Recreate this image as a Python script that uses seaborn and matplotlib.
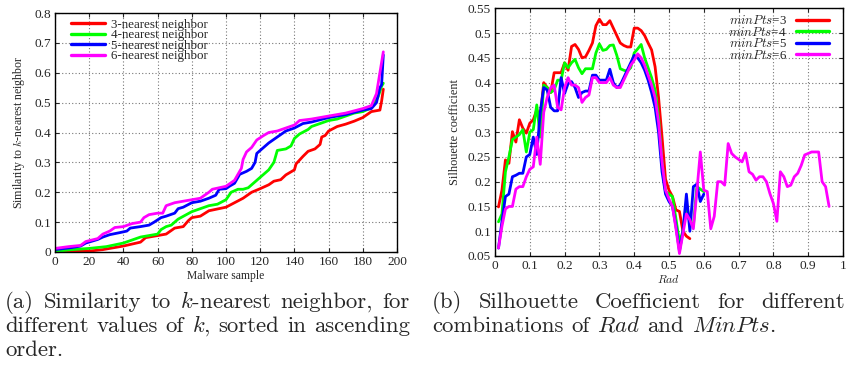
import matplotlib
matplotlib.use("Agg")
import matplotlib.pyplot as plt
from matplotlib.ticker import FuncFormatter, MultipleLocator
import seaborn as sns
import numpy as np

# ---------------- data: left panel (sorted similarity) ----------------
knn3_x = [0, 20, 28, 30, 40, 50, 53, 60, 65, 70, 75, 78, 80, 85, 90, 100, 105, 110, 115, 120,
          125, 128, 132, 135, 140, 141, 145, 148, 152, 155, 156, 158, 160, 165, 170, 175, 180,
          185, 190, 191, 192]
knn3_y = [0.002, 0.003, 0.008, 0.01, 0.02, 0.033, 0.048, 0.055, 0.06, 0.08, 0.085, 0.105, 0.115,
          0.12, 0.138, 0.15, 0.165, 0.18, 0.2, 0.212, 0.225, 0.237, 0.242, 0.258, 0.275, 0.295,
          0.32, 0.337, 0.345, 0.36, 0.385, 0.39, 0.405, 0.42, 0.428, 0.438, 0.45, 0.47, 0.475,
          0.505, 0.545]

knn4_x = [0, 10, 20, 30, 40, 45, 50, 55, 60, 62, 65, 68, 70, 72, 80, 85, 90, 95, 100, 103, 107,
          110, 113, 118, 122, 125, 128, 130, 135, 138, 140, 143, 148, 150, 155, 160, 165, 170,
          175, 180, 184, 187, 189, 191, 192]
knn4_y = [0.002, 0.008, 0.012, 0.018, 0.03, 0.04, 0.05, 0.055, 0.06, 0.075, 0.085, 0.09, 0.1,
          0.11, 0.135, 0.145, 0.155, 0.16, 0.175, 0.2, 0.21, 0.21, 0.215, 0.24, 0.26, 0.275, 0.3,
          0.34, 0.345, 0.355, 0.38, 0.395, 0.41, 0.42, 0.43, 0.44, 0.445, 0.455, 0.465, 0.47,
          0.48, 0.5, 0.52, 0.555, 0.565]

knn5_x = [0, 10, 15, 18, 25, 28, 32, 38, 42, 44, 50, 55, 58, 62, 65, 70, 72, 75, 80, 85, 90, 94,
          96, 100, 102, 105, 108, 112, 115, 117, 118, 120, 122, 125, 130, 135, 140, 145, 150,
          160, 170, 180, 185, 188, 190, 191, 192]
knn5_y = [0.008, 0.015, 0.02, 0.03, 0.042, 0.05, 0.058, 0.065, 0.07, 0.08, 0.085, 0.09, 0.1,
          0.115, 0.12, 0.13, 0.145, 0.15, 0.165, 0.17, 0.18, 0.19, 0.21, 0.212, 0.22, 0.23, 0.26,
          0.27, 0.28, 0.3, 0.33, 0.34, 0.35, 0.365, 0.385, 0.405, 0.415, 0.43, 0.435, 0.45,
          0.46, 0.475, 0.48, 0.5, 0.55, 0.56, 0.66]

knn6_x = [0, 8, 15, 18, 25, 28, 32, 35, 40, 45, 50, 52, 55, 60, 63, 65, 70, 75, 80, 85, 90, 92,
          100, 105, 107, 109, 110, 112, 115, 118, 122, 125, 130, 135, 140, 143, 150, 160, 170,
          180, 185, 188, 190, 192]
knn6_y = [0.012, 0.018, 0.022, 0.035, 0.045, 0.06, 0.07, 0.082, 0.085, 0.095, 0.1, 0.115,
          0.125, 0.13, 0.13, 0.155, 0.165, 0.17, 0.175, 0.18, 0.2, 0.21, 0.22, 0.24, 0.26, 0.28,
          0.31, 0.335, 0.35, 0.375, 0.39, 0.4, 0.405, 0.415, 0.425, 0.44, 0.445, 0.455, 0.465,
          0.48, 0.49, 0.53, 0.6, 0.67]

left_labels = ["3-nearest neighbor", "4-nearest neighbor", "5-nearest neighbor", "6-nearest neighbor"]

# ---------------- data: right panel (silhouette coefficient) ----------------
rad_a = [round(0.01 * i, 2) for i in range(1, 97)]  # 0.01 .. 0.96

sil3 = [0.149, 0.183, 0.244, 0.237, 0.301, 0.28, 0.325, 0.308, 0.298, 0.318,
        0.325, 0.345, 0.33, 0.40, 0.39, 0.38, 0.42, 0.42, 0.42, 0.44,
        0.425, 0.473, 0.477, 0.467, 0.45, 0.452, 0.465, 0.48, 0.515, 0.528,
        0.517, 0.517, 0.525, 0.51, 0.495, 0.48, 0.475, 0.472, 0.472, 0.51,
        0.51, 0.505, 0.495, 0.48, 0.466, 0.432, 0.37, 0.29, 0.205, 0.183,
        0.17, 0.143, 0.14, 0.10, 0.09, 0.085]
sil4 = [0.119, 0.135, 0.22, 0.25, 0.285, 0.29, 0.295, 0.305, 0.26, 0.3,
        0.305, 0.355, 0.29, 0.395, 0.39, 0.38, 0.385, 0.405, 0.405, 0.44,
        0.43, 0.44, 0.447, 0.43, 0.418, 0.428, 0.428, 0.428, 0.46, 0.478,
        0.465, 0.467, 0.475, 0.476, 0.455, 0.428, 0.425, 0.423, 0.43, 0.46,
        0.468, 0.477, 0.45, 0.43, 0.41, 0.385, 0.33, 0.24, 0.18, 0.175,
        0.17, 0.125, 0.078, 0.1, 0.155, 0.12, 0.11, 0.19, 0.185, 0.18]
sil5 = [0.066, 0.12, 0.17, 0.175, 0.21, 0.213, 0.217, 0.217, 0.25, 0.255,
        0.29, 0.255, 0.34, 0.39, 0.385, 0.35, 0.343, 0.343, 0.41, 0.378,
        0.398, 0.402, 0.39, 0.37, 0.38, 0.383, 0.383, 0.415, 0.415, 0.405,
        0.405, 0.405, 0.427, 0.4, 0.39, 0.395, 0.41, 0.425, 0.44, 0.455,
        0.45, 0.44, 0.425, 0.405, 0.38, 0.35, 0.30, 0.22, 0.175, 0.16,
        0.15, 0.11, 0.06, 0.1, 0.175, 0.1, 0.19, 0.195, 0.16, 0.175]
sil6 = [0.066, 0.11, 0.145, 0.15, 0.15, 0.185, 0.19, 0.19, 0.21, 0.225,
        0.23, 0.29, 0.235, 0.34, 0.37, 0.39, 0.395, 0.35, 0.345, 0.39,
        0.41, 0.395, 0.395, 0.39, 0.36, 0.37, 0.375, 0.41, 0.41, 0.4,
        0.4, 0.4, 0.41, 0.395, 0.39, 0.39, 0.405, 0.42, 0.435, 0.445,
        0.458, 0.45, 0.435, 0.415, 0.395, 0.37, 0.32, 0.24, 0.183, 0.165,
        0.15, 0.105, 0.055, 0.095, 0.135, 0.123, 0.105, 0.18, 0.26, 0.183,
        0.18, 0.105, 0.13, 0.2, 0.2, 0.193, 0.277, 0.257, 0.25, 0.245,
        0.24, 0.258, 0.22, 0.215, 0.203, 0.21, 0.21, 0.2, 0.176, 0.156,
        0.12, 0.22, 0.21, 0.19, 0.193, 0.21, 0.217, 0.233, 0.254, 0.257,
        0.26, 0.26, 0.26, 0.2, 0.19, 0.15]
right_labels = [r"$minPts$=3", r"$minPts$=4", r"$minPts$=5", r"$minPts$=6"]

colors = ["#ff0000", "#00ff00", "#0000ff", "#ff00ff"]

# ---------------- style ----------------
sns.set_style("ticks")
plt.rcParams["font.family"] = ["Liberation Serif", "DejaVu Serif"]
plt.rcParams["mathtext.fontset"] = "cm"

W, H = 846, 372
fig = plt.figure(figsize=(W / 100, H / 100), dpi=100)

def px_axes(l, r, t, b):
    return fig.add_axes([l / W, 1 - b / H, (r - l) / W, (b - t) / H])

axL = px_axes(55, 397, 13, 252)
axR = px_axes(495, 843, 8.3, 256)

fmt = FuncFormatter(lambda v, p: "%g" % round(v, 4))

def style_axes(ax):
    ax.grid(True, linestyle=(0, (1, 2)), color="#777777", linewidth=0.8)
    ax.tick_params(direction="in", length=3, width=0.8, labelsize=9.6,
                   top=True, right=True, pad=3)
    for s in ax.spines.values():
        s.set_linewidth(1.0)
        s.set_color("black")
    ax.xaxis.set_major_formatter(fmt)
    ax.yaxis.set_major_formatter(fmt)

# left panel
for xs, ys, c, lab in zip([knn3_x, knn4_x, knn5_x, knn6_x],
                          [knn3_y, knn4_y, knn5_y, knn6_y], colors, left_labels):
    sns.lineplot(x=xs, y=ys, color=c, linewidth=2.0, label=lab, ax=axL, estimator=None)
axL.set_xlim(0, 200)
axL.set_ylim(0, 0.8)
axL.xaxis.set_major_locator(MultipleLocator(20))
axL.yaxis.set_major_locator(MultipleLocator(0.1))
style_axes(axL)
axL.set_xlabel("Malware sample", fontsize=8.4, labelpad=1)
axL.set_ylabel(r"Similarity to $k$-nearest neighbor", fontsize=8.6, labelpad=5)
legL = axL.legend(loc="upper left", bbox_to_anchor=(0.02, 1.015), frameon=False, fontsize=9.4,
                  handlelength=2.6, labelspacing=-0.12, borderpad=0.2, handletextpad=0.5)
for l in legL.get_lines():
    l.set_linewidth(2.4)

# right panel
for ys, c, lab in zip([sil3, sil4, sil5, sil6], colors, right_labels):
    sns.lineplot(x=rad_a[:len(ys)], y=ys, color=c, linewidth=2.0, label=lab, ax=axR,
                 estimator=None)
axR.set_xlim(0, 1)
axR.set_ylim(0.05, 0.55)
axR.xaxis.set_major_locator(MultipleLocator(0.1))
axR.yaxis.set_major_locator(MultipleLocator(0.05))
style_axes(axR)
axR.set_xlabel(r"$Rad$", fontsize=8.4, labelpad=1)
axR.set_ylabel("Silhouette coefficient", fontsize=8.8, labelpad=5)
legR = axR.legend(loc="upper right", bbox_to_anchor=(0.985, 1.012), frameon=False, fontsize=9.4,
                  handlelength=2.5, labelspacing=-0.12, borderpad=0.2, handletextpad=0.7,
                  markerfirst=False)
for l in legR.get_lines():
    l.set_linewidth(2.4)

# ---------------- captions (justified lines) ----------------
fig.canvas.draw()
renderer = fig.canvas.get_renderer()

def caption_line(text, x0, x1, ybase, size=16.4, justify=True):
    words = text.split(" ")
    ts = [fig.text(0, 1 - ybase / H, w, fontsize=size, family="cmr10", va="baseline")
          for w in words]
    widths = [t.get_window_extent(renderer).width for t in ts]
    if justify and len(words) > 1:
        gap = (x1 - x0 - sum(widths)) / (len(words) - 1)
    else:
        gap = size * 1.389 * 0.333
    x = x0
    for t, w in zip(ts, widths):
        t.set_x(x / W)
        x += w + gap

caption_line(r"(a) Similarity to $k$-nearest neighbor, for", 5, 410, 308)
caption_line(r"different values of $k$, sorted in ascending", 5, 410, 332)
caption_line(r"order.", 5, 410, 356, justify=False)
caption_line(r"(b) Silhouette Coefficient for different", 432, 845, 308)
caption_line(r"combinations of $Rad$ and $MinPts$.", 432, 845, 332, justify=False)

fig.savefig("out.png", dpi=100)
